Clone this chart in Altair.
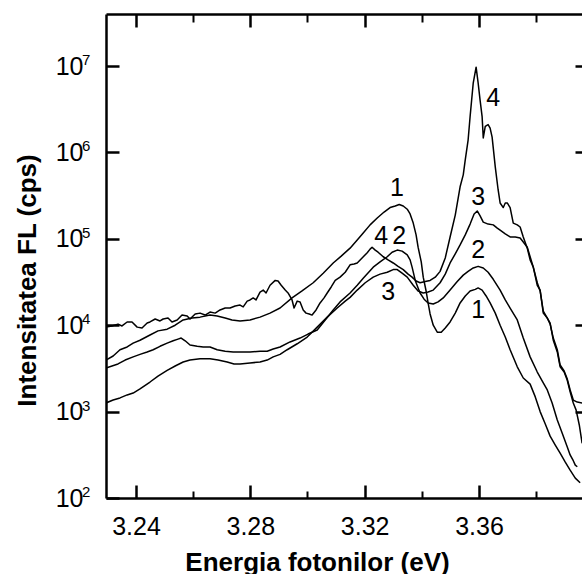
import altair as alt
import pandas as pd

# ---- spectra (energy in eV, intensity in cps) ----
c1_x = [3.2295,3.2320,3.2344,3.2369,3.2390,3.2414,3.2449,3.2477,3.2509,3.2537,3.2565,3.2596,3.2624,3.2659,3.2684,3.2712,3.2736,3.2764,3.2799,3.2834,3.2869,3.2904,3.2946,3.2981,3.3020,3.3055,3.3090,3.3118,3.3149,3.3174,3.3195,3.3219,3.3244,3.3268,3.3289,3.3307,3.3321,3.3335,3.3349,3.3359,3.3370,3.3380,3.3387,3.3398,3.3405,3.3415,3.3422,3.3429,3.3440,3.3454,3.3468,3.3482,3.3499,3.3517,3.3534,3.3552,3.3569,3.3587,3.3597,3.3611,3.3625,3.3639,3.3657,3.3674,3.3692,3.3709,3.3734,3.3755,3.3779,3.3797,3.3814,3.3832,3.3849,3.3867,3.3884,3.3902,3.3919,3.3937,3.3954]
c1_y = [3950,4400,5200,5600,6200,6700,7700,8600,9000,10000,11500,12100,12400,13100,12800,12100,11500,11200,11500,12400,13800,15800,20700,24900,31000,40000,52500,63000,78000,97000,117000,145000,174000,204000,230000,240000,250000,240000,220000,194000,152000,111000,80000,54000,36000,24900,18100,13500,10000,8300,8300,9300,10900,13800,18100,21800,24900,26000,27000,25500,21800,18100,13800,10000,7300,5200,3300,2450,2080,1480,1000,720,520,410,330,260,210,170,150]

c2_x = [3.2295,3.2316,3.2337,3.2362,3.2390,3.2414,3.2439,3.2460,3.2484,3.2509,3.2530,3.2547,3.2558,3.2572,3.2589,3.2614,3.2635,3.2659,3.2684,3.2712,3.2740,3.2764,3.2799,3.2834,3.2859,3.2880,3.2904,3.2939,3.2974,3.3002,3.3034,3.3062,3.3090,3.3114,3.3149,3.3174,3.3195,3.3230,3.3254,3.3279,3.3296,3.3314,3.3331,3.3349,3.3359,3.3366,3.3377,3.3387,3.3394,3.3408,3.3422,3.3440,3.3457,3.3475,3.3499,3.3524,3.3545,3.3562,3.3580,3.3597,3.3615,3.3632,3.3650,3.3674,3.3692,3.3709,3.3734,3.3755,3.3779,3.3804,3.3825,3.3839,3.3856,3.3874,3.3891,3.3909,3.3919,3.3930,3.3937,3.3944]
c2_y = [3200,3370,3560,3950,4300,4600,4900,5200,5700,6200,6600,6900,7100,6600,5900,5700,5600,5600,5200,5000,4900,4900,4900,5000,5000,5300,5600,6400,7100,7900,8800,11500,15000,18600,23600,29000,35000,47000,54000,62000,70000,74000,72000,65000,57000,47000,33000,27000,23600,20000,18100,17600,18600,20700,25500,32000,38000,42000,46000,48000,46000,41000,34000,25500,19600,15800,11500,7100,4300,2870,2150,1780,1260,800,565,390,315,270,240,230]

c3_x = [3.2295,3.2320,3.2344,3.2369,3.2390,3.2414,3.2449,3.2477,3.2509,3.2537,3.2565,3.2589,3.2624,3.2659,3.2687,3.2719,3.2743,3.2764,3.2799,3.2834,3.2859,3.2880,3.2904,3.2929,3.2964,3.2999,3.3034,3.3069,3.3104,3.3132,3.3149,3.3174,3.3202,3.3230,3.3254,3.3279,3.3300,3.3314,3.3331,3.3349,3.3370,3.3387,3.3405,3.3422,3.3440,3.3464,3.3482,3.3499,3.3517,3.3534,3.3552,3.3569,3.3583,3.3594,3.3604,3.3615,3.3632,3.3650,3.3664,3.3674,3.3692,3.3709,3.3727,3.3744,3.3755,3.3769,3.3779,3.3790,3.3804,3.3814,3.3825,3.3839,3.3849,3.3860,3.3874,3.3884,3.3898,3.3909,3.3919,3.3930,3.3944,3.3961]
c3_y = [1260,1360,1440,1560,1640,1830,2200,2580,3000,3370,3750,3950,4100,4100,3950,3750,3560,3560,3660,3750,3950,4300,4600,5200,6100,7300,9500,12400,15800,19000,21000,25500,31000,36000,39000,41000,44000,44000,40000,36000,29000,24900,23600,24200,25500,31000,39000,52500,67000,85000,111000,148000,194000,210000,184000,156000,148000,145000,133000,126000,114000,105000,105000,102000,92000,80000,62000,47000,31000,24900,14600,12100,10300,7100,5200,3460,2950,2380,1780,1360,1290,1260]

c4_x = [3.2295,3.2316,3.2337,3.2351,3.2369,3.2386,3.2404,3.2421,3.2439,3.2449,
        3.2467,3.2484,3.2495,3.2512,3.2526,3.2544,3.2561,3.2579,3.2589,3.2607,
        3.2624,3.2642,3.2659,3.2677,3.2694,3.2712,3.2729,3.2747,3.2764,3.2775,
        3.2789,3.2799,3.2810,3.2820,3.2834,3.2845,3.2855,3.2869,3.2887,3.2897,
        3.2908,3.2922,3.2932,3.2946,3.2953,3.2964,3.2974,3.2985,3.2995,3.3006,
        3.3016,3.3030,3.3044,3.3058,3.3069,3.3083,3.3097,3.3114,3.3132,3.3149,
        3.3163,3.3174,3.3191,3.3209,3.3219,3.3226,3.3237,3.3247,3.3265,3.3282,
        3.3300,3.3317,3.3335,3.3352,3.3366,3.3380,3.3394,3.3412,3.3429,3.3447,
        3.3464,3.3482,3.3499,3.3517,3.3534,3.3545,3.3552,3.3562,3.3569,3.3580,
        3.3590,3.3597,3.3604,3.3611,3.3615,3.3622,3.3632,3.3639,3.3646,3.3657,
        3.3667,3.3674,3.3685,3.3692,3.3699,3.3709,3.3720,3.3734,3.3744,3.3755,
        3.3769,3.3779,3.3790,3.3804,3.3814,3.3825,3.3839,3.3849,3.3860,3.3874,
        3.3884,3.3898,3.3909,3.3919,3.3930,3.3940,3.3951,3.3961]
c4_y = [9500,9800,10300,9800,10900,10900,9500,9300,10600,10900,
        11800,11200,11800,12100,10900,11500,13100,12800,11800,13500,
        13800,13100,14200,13800,15000,15800,15800,16700,17100,16300,
        19000,19600,20700,19600,24200,25500,23600,29000,33000,32500,
        29000,25500,23600,19600,15800,19000,18600,15000,13800,13500,
        13100,15000,18100,20700,23600,27700,33000,36000,41000,50000,
        51000,52500,60000,69000,76000,80000,74000,70000,62000,57000,
        52500,48000,44000,39000,36000,32500,31000,32000,33000,36000,
        42000,60000,105000,188000,400000,550000,820000,1390000,2600000,6400000,
        9700000,6400000,4000000,2600000,1470000,2000000,2100000,1910000,1500000,680000,
        370000,260000,230000,260000,260000,230000,152000,145000,137000,105000,
        78000,57000,47000,29000,25500,13800,12100,10600,6700,4900,
        3300,2870,2300,1700,1260,1040,700,430]

# curve number labels
lab_x = [3.3313, 3.3258, 3.3321, 3.3282, 3.3650, 3.3597, 3.3597, 3.3597]
lab_y = [390000, 108000, 108000, 24000, 4300000, 305000, 74000, 15000]
lab_t = ["1", "4", "2", "3", "4", "3", "2", "1"]

# axes
X_DOMAIN = [3.2295, 3.39605]
Y_DOMAIN = [100, 4e7]
X_MAJOR = [3.24, 3.28, 3.32, 3.36]
X_MINOR = [3.26, 3.30, 3.34, 3.38]
Y_MAJOR = [1e2, 1e3, 1e4, 1e5, 1e6, 1e7]
Y_EXP = ["2", "3", "4", "5", "6", "7"]

X_TITLE = "Energia fotonilor (eV)"
Y_TITLE = "Intensitatea FL (cps)"

FONT = "Liberation Sans"

rows = []
for name, xs, ys in (("1", c1_x, c1_y), ("2", c2_x, c2_y), ("3", c3_x, c3_y), ("4", c4_x, c4_y)):
    assert len(xs) == len(ys), name
    rows += [{"curve": name, "x": a, "y": b} for a, b in zip(xs, ys)]
df = pd.DataFrame(rows)
lab_df = pd.DataFrame({"x": lab_x, "y": lab_y, "t": lab_t})
exp_df = pd.DataFrame({"v": Y_MAJOR, "e": Y_EXP})

xsc = alt.Scale(domain=X_DOMAIN, nice=False, zero=False)
ysc = alt.Scale(type="log", domain=Y_DOMAIN, nice=False)


def ax(**kw):
    base = dict(grid=False, domainColor="black", tickColor="black",
                labelColor="black", titleColor="black",
                labelFont=FONT, titleFont=FONT)
    base.update(kw)
    return alt.Axis(**base)


def xe(axis, field="x"):
    return alt.X(f"{field}:Q", scale=xsc, axis=axis)


def ye(axis, field="y"):
    return alt.Y(f"{field}:Q", scale=ysc, axis=axis)


lines = alt.Chart(df).mark_line(color="black", strokeWidth=1.5, clip=True,
                                strokeJoin="round").encode(
    x=xe(ax(orient="bottom", offset=-13, tickSize=13, tickWidth=2.5, domain=False,
            values=X_MAJOR, format=".2f", labelFontSize=25, labelPadding=16,
            labelFlush=False, labelOverlap=False, title=None)),
    y=ye(ax(orient="left", offset=-13, tickSize=13, tickWidth=2.5, domain=False,
            values=Y_MAJOR, labelExpr="'10'", labelFontSize=25, labelPadding=23,
            labelFlush=False, labelOverlap=False, title=None)),
    detail="curve:N",
)

ghost = alt.Chart(df).mark_point(opacity=0)

frame_dom = ghost.encode(
    x=xe(ax(orient="bottom", offset=0, ticks=False, labels=False, domain=True,
            domainWidth=2.5, title=X_TITLE, titleFontSize=26, titleFontWeight="bold",
            titleX=211, titleY=72, titleBaseline="alphabetic", titleAlign="center")),
    y=ye(ax(orient="left", offset=0, ticks=False, labels=False, domain=True,
            domainWidth=2.5, title=Y_TITLE, titleFontSize=26, titleFontWeight="bold",
            titleX=-71, titleY=266, titleAngle=270, titleBaseline="alphabetic",
            titleAlign="center")),
)

frame_minor = ghost.encode(
    x=xe(ax(orient="bottom", offset=-7, tickSize=7, tickWidth=2, domain=False,
            labels=False, values=X_MINOR, title=None)),
    y=ye(ax(orient="right", offset=-7, tickSize=7, tickWidth=2.5, domain=False,
            labels=False, values=Y_MAJOR[1:], title=None)),
)

frame_top_dom = ghost.encode(
    x=xe(ax(orient="top", offset=0, ticks=False, labels=False, domain=True,
            domainWidth=2.5, title=None)),
    y=ye(None),
)

frame_top_major = ghost.encode(
    x=xe(ax(orient="top", offset=-13, tickSize=13, tickWidth=2.5, domain=False,
            labels=False, values=X_MAJOR, title=None)),
    y=ye(None),
)

frame_top_minor = ghost.encode(
    x=xe(ax(orient="top", offset=-8, tickSize=8, tickWidth=2, domain=False,
            labels=False, values=X_MINOR, title=None)),
    y=ye(None),
)

exps = alt.Chart(exp_df).mark_text(align="left", baseline="alphabetic", dx=-24, dy=-1,
                                   fontSize=15, font=FONT, color="black").encode(
    x=alt.value(0),
    y=ye(None, "v"),
    text="e:N",
)

labels = alt.Chart(lab_df).mark_text(align="center", baseline="middle", fontSize=25,
                                     font=FONT, color="black").encode(
    x=xe(None),
    y=ye(None),
    text="t:N",
)

chart = alt.layer(
    frame_dom, frame_minor, frame_top_dom, frame_top_major, frame_top_minor,
    lines, exps, labels,
).resolve_axis(x="independent", y="independent").properties(
    width=476,
    height=484,
    autosize=alt.AutoSizeParams(type="none"),
    padding={"left": 106, "top": 14, "right": 0, "bottom": 76},
).configure_view(stroke=None)

chart.save("out.html", embed_options={"renderer": "svg", "actions": False})
